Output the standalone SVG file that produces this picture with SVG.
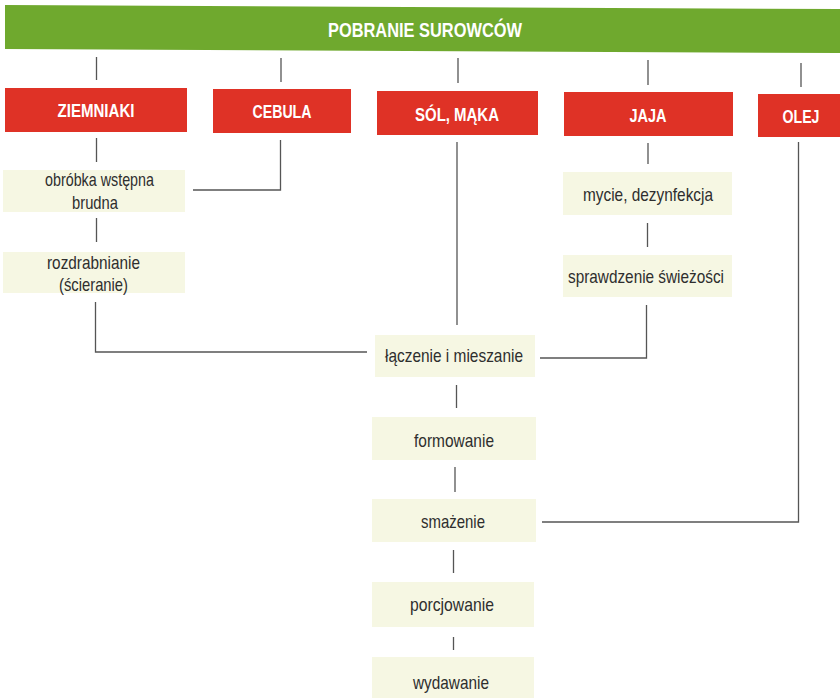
<svg xmlns="http://www.w3.org/2000/svg" width="840" height="699" viewBox="0 0 840 699">
<style>
.bg{fill:#ffffff}
.hdr{fill:#6fa92e}
.red{fill:#df3226}
.pale{fill:#f6f7e3}
.ht{font-family:"Liberation Sans Narrow","Liberation Sans",Arial,sans-serif;font-weight:bold;fill:#ffffff;text-anchor:middle}
.t{font-family:"Liberation Sans Narrow","Liberation Sans",Arial,sans-serif;font-size:19px;fill:#2e2e2e;text-anchor:middle}
.c{fill:none;stroke:#555555;stroke-width:1.3}
</style>
<rect class="bg" x="0" y="0" width="840" height="699"/>
<g id="pobranie">
<polygon class="hdr" points="5,5 840,9 840,53 5,49"/>
<text class="ht" x="425" y="37" font-size="20" textLength="194" lengthAdjust="spacingAndGlyphs">POBRANIE SUROWCÓW</text>
</g>
<g id="ziemniaki">
<rect class="red" x="5" y="88" width="182" height="44"/>
<text class="ht" x="96" y="117" font-size="19" textLength="77" lengthAdjust="spacingAndGlyphs">ZIEMNIAKI</text>
</g>
<g id="cebula">
<rect class="red" x="213" y="89" width="138" height="44"/>
<text class="ht" x="282" y="118" font-size="19" textLength="59" lengthAdjust="spacingAndGlyphs">CEBULA</text>
</g>
<g id="sol-maka">
<rect class="red" x="377" y="91" width="161" height="44"/>
<text class="ht" x="457" y="121" font-size="19" textLength="84" lengthAdjust="spacingAndGlyphs">SÓL, MĄKA</text>
</g>
<g id="jaja">
<rect class="red" x="564" y="92" width="169" height="44"/>
<text class="ht" x="648" y="122" font-size="19" textLength="37" lengthAdjust="spacingAndGlyphs">JAJA</text>
</g>
<g id="olej">
<rect class="red" x="758" y="94" width="82" height="43"/>
<text class="ht" x="801" y="123" font-size="19" textLength="37" lengthAdjust="spacingAndGlyphs">OLEJ</text>
</g>
<g id="obrobka">
<rect class="pale" x="3" y="170" width="182" height="42"/>
<text class="t" x="99.5" y="186" textLength="109" lengthAdjust="spacingAndGlyphs">obróbka wstępna</text>
<text class="t" x="95" y="209" textLength="46" lengthAdjust="spacingAndGlyphs">brudna</text>
</g>
<g id="rozdrabnianie">
<rect class="pale" x="3" y="252" width="182" height="41"/>
<text class="t" x="93.5" y="269" textLength="93" lengthAdjust="spacingAndGlyphs">rozdrabnianie</text>
<text class="t" x="93.5" y="291" textLength="69" lengthAdjust="spacingAndGlyphs">(ścieranie)</text>
</g>
<g id="mycie">
<rect class="pale" x="563" y="172" width="169" height="43"/>
<text class="t" x="648" y="201" textLength="130" lengthAdjust="spacingAndGlyphs">mycie, dezynfekcja</text>
</g>
<g id="sprawdzenie">
<rect class="pale" x="563" y="255" width="169" height="42"/>
<text class="t" x="646" y="283" textLength="156" lengthAdjust="spacingAndGlyphs">sprawdzenie świeżości</text>
</g>
<g id="laczenie">
<rect class="pale" x="375" y="335" width="160" height="42"/>
<text class="t" x="454" y="362" textLength="138" lengthAdjust="spacingAndGlyphs">łączenie i mieszanie</text>
</g>
<g id="formowanie">
<rect class="pale" x="372" y="417" width="164" height="43"/>
<text class="t" x="454" y="447" textLength="80" lengthAdjust="spacingAndGlyphs">formowanie</text>
</g>
<g id="smazenie">
<rect class="pale" x="372" y="499" width="164" height="43"/>
<text class="t" x="453" y="528" textLength="64" lengthAdjust="spacingAndGlyphs">smażenie</text>
</g>
<g id="porcjowanie">
<rect class="pale" x="372" y="582" width="162" height="45"/>
<text class="t" x="452" y="611" textLength="84" lengthAdjust="spacingAndGlyphs">porcjowanie</text>
</g>
<g id="wydawanie">
<rect class="pale" x="372" y="657" width="162" height="41"/>
<text class="t" x="451" y="689" textLength="76" lengthAdjust="spacingAndGlyphs">wydawanie</text>
</g>
<g id="connectors">
<path class="c" d="M96.5,57 V80"/>
<path class="c" d="M281,58 V82"/>
<path class="c" d="M458,58 V83"/>
<path class="c" d="M648,60 V85"/>
<path class="c" d="M801,63 V87"/>
<path class="c" d="M96.5,138 V162"/>
<path class="c" d="M280.5,140 V190 H193"/>
<path class="c" d="M96.5,218 V242"/>
<path class="c" d="M95.5,302 V352 H367"/>
<path class="c" d="M457,142 V325"/>
<path class="c" d="M648,143 V164"/>
<path class="c" d="M647.5,223 V247"/>
<path class="c" d="M646.5,305 V358 H540"/>
<path class="c" d="M798.5,142 V522 H542"/>
<path class="c" d="M456.5,385 V408"/>
<path class="c" d="M455,467 V492"/>
<path class="c" d="M453.5,550 V573"/>
<path class="c" d="M453.5,637 V650"/>
</g>
</svg>
